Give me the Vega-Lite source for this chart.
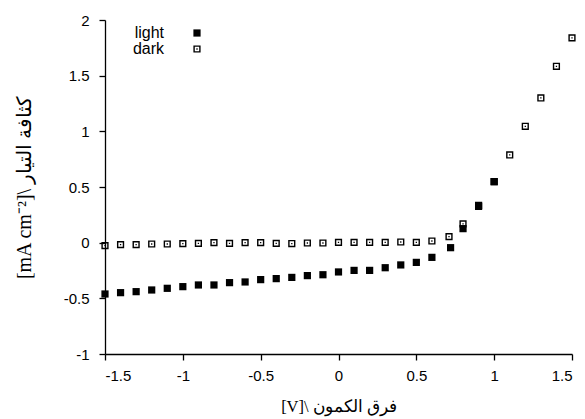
{
  "$schema": "https://vega.github.io/schema/vega-lite/v6.json",
  "width": 467,
  "height": 334,
  "autosize": {"type": "none"},
  "padding": {"left": 105, "top": 20, "right": 13, "bottom": 65},
  "background": "white",
  "config": {
    "view": {"stroke": null},
    "axis": {
      "domainColor": "black",
      "tickColor": "black",
      "labelColor": "black",
      "titleColor": "black",
      "grid": false,
      "labelFont": "Liberation Sans",
      "labelFontSize": 15,
      "titleFont": "Liberation Serif",
      "titleFontSize": 16.5,
      "titleFontWeight": "normal",
      "tickSize": 6,
      "domainWidth": 1.3,
      "tickWidth": 1.3
    }
  },
  "data": {
    "values": [
      {"series": "dark", "V": -1.5, "J": -0.027},
      {"series": "dark", "V": -1.4, "J": -0.018},
      {"series": "dark", "V": -1.3, "J": -0.018},
      {"series": "dark", "V": -1.2, "J": -0.012},
      {"series": "dark", "V": -1.1, "J": -0.012},
      {"series": "dark", "V": -1.0, "J": -0.009},
      {"series": "dark", "V": -0.9, "J": -0.006},
      {"series": "dark", "V": -0.8, "J": 0.0},
      {"series": "dark", "V": -0.7, "J": -0.006},
      {"series": "dark", "V": -0.6, "J": 0.0},
      {"series": "dark", "V": -0.5, "J": 0.0},
      {"series": "dark", "V": -0.4, "J": -0.006},
      {"series": "dark", "V": -0.3, "J": -0.008},
      {"series": "dark", "V": -0.2, "J": -0.003},
      {"series": "dark", "V": -0.1, "J": -0.003},
      {"series": "dark", "V": 0.0, "J": 0.003},
      {"series": "dark", "V": 0.1, "J": 0.003},
      {"series": "dark", "V": 0.2, "J": 0.003},
      {"series": "dark", "V": 0.3, "J": 0.003},
      {"series": "dark", "V": 0.4, "J": 0.006},
      {"series": "dark", "V": 0.5, "J": 0.003},
      {"series": "dark", "V": 0.6, "J": 0.015},
      {"series": "dark", "V": 0.71, "J": 0.054},
      {"series": "dark", "V": 0.8, "J": 0.168},
      {"series": "dark", "V": 0.9, "J": 0.335},
      {"series": "dark", "V": 1.0, "J": 0.548},
      {"series": "dark", "V": 1.1, "J": 0.788},
      {"series": "dark", "V": 1.2, "J": 1.045},
      {"series": "dark", "V": 1.3, "J": 1.3},
      {"series": "dark", "V": 1.4, "J": 1.584},
      {"series": "dark", "V": 1.5, "J": 1.839},
      {"series": "light", "V": -1.5, "J": -0.461},
      {"series": "light", "V": -1.4, "J": -0.449},
      {"series": "light", "V": -1.3, "J": -0.44},
      {"series": "light", "V": -1.2, "J": -0.425},
      {"series": "light", "V": -1.1, "J": -0.41},
      {"series": "light", "V": -1.0, "J": -0.395},
      {"series": "light", "V": -0.9, "J": -0.38},
      {"series": "light", "V": -0.8, "J": -0.38},
      {"series": "light", "V": -0.7, "J": -0.359},
      {"series": "light", "V": -0.6, "J": -0.353},
      {"series": "light", "V": -0.5, "J": -0.332},
      {"series": "light", "V": -0.4, "J": -0.323},
      {"series": "light", "V": -0.3, "J": -0.312},
      {"series": "light", "V": -0.2, "J": -0.296},
      {"series": "light", "V": -0.1, "J": -0.288},
      {"series": "light", "V": 0.0, "J": -0.263},
      {"series": "light", "V": 0.1, "J": -0.249},
      {"series": "light", "V": 0.2, "J": -0.249},
      {"series": "light", "V": 0.3, "J": -0.225},
      {"series": "light", "V": 0.4, "J": -0.2},
      {"series": "light", "V": 0.5, "J": -0.177},
      {"series": "light", "V": 0.6, "J": -0.132},
      {"series": "light", "V": 0.72, "J": -0.045},
      {"series": "light", "V": 0.8, "J": 0.126},
      {"series": "light", "V": 0.9, "J": 0.326},
      {"series": "light", "V": 1.0, "J": 0.548}
    ]
  },
  "mark": {"type": "point", "filled": true, "color": "black", "size": 52, "opacity": 1},
  "encoding": {
    "x": {
      "field": "V",
      "type": "quantitative",
      "scale": {"domain": [-1.5, 1.5], "nice": false, "zero": false},
      "axis": {
        "values": [-1.5, -1, -0.5, 0, 0.5, 1, 1.5],
        "labelExpr": "datum.value + ''",
        "labelPadding": 8,
        "title": "[V]\\ فرق الكمون",
        "titlePadding": 15
      }
    },
    "y": {
      "field": "J",
      "type": "quantitative",
      "scale": {"domain": [-1, 2], "nice": false, "zero": false},
      "axis": {
        "values": [-1, -0.5, 0, 0.5, 1, 1.5, 2],
        "labelExpr": "datum.value + ''",
        "labelPadding": 10,
        "title": "[mA cm⁻²]\\ كثافة التيار",
        "titleFontSize": 20,
        "titlePadding": 29
      }
    },
    "shape": {
      "field": "series",
      "type": "nominal",
      "scale": {
        "domain": ["light", "dark"],
        "range": ["square", "M-1,-1H1V1H-1Z M-0.61,-0.61V0.61H0.61V-0.61Z M-0.18,-0.18H0.18V0.18H-0.18Z"]
      },
      "legend": {
        "orient": "none",
        "legendX": 84,
        "legendY": 5,
        "title": null,
        "labelFont": "Liberation Sans",
        "labelFontSize": 16,
        "labelColor": "black",
        "labelAlign": "right",
        "labelOffset": -41,
        "symbolSize": 52,
        "rowPadding": -6
      }
    }
  }
}
